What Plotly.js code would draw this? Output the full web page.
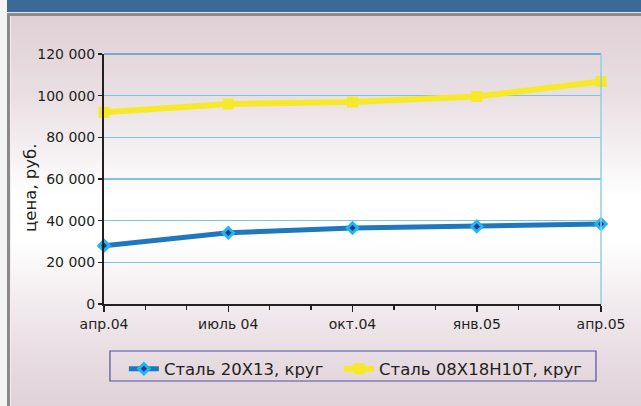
<!DOCTYPE html>
<html><head><meta charset="utf-8">
<script src="https://cdn.plot.ly/plotly-3.0.1.min.js"></script>
<style>
html,body{margin:0;padding:0;background:#f4f4f4;}
#wrap{position:relative;width:641px;height:406px;overflow:hidden;background:#f4f4f4;}
.abs{position:absolute;}
#band{left:7px;top:0;width:634px;height:12px;background:#3b6a99;}
#hl1{left:7px;top:12px;width:634px;height:1px;background:#e4e4e4;}
#hl2{left:7px;top:13px;width:634px;height:3px;background:#8a8a8a;}
#vl{left:7px;top:13px;width:3px;height:393px;background:#8a8a8a;}
#vl2{left:10px;top:16px;width:1px;height:390px;background:#f3eef0;}
#panel{left:11px;top:16px;width:630px;height:390px;
  background:linear-gradient(to bottom,#e0d0d6 0%,#e9dfe3 20%,#f6f2f4 36%,#ffffff 46%,#ffffff 58%,#f3edf0 72%,#e7dce1 88%,#e0d2d8 100%);}
#chart{left:0;top:0;width:641px;height:406px;}
</style></head>
<body>
<div id="wrap">
  <div id="band" class="abs"></div>
  <div id="hl1" class="abs"></div>
  <div id="hl2" class="abs"></div>
  <div id="vl" class="abs"></div>
  <div id="vl2" class="abs"></div>
  <div id="panel" class="abs"></div>
  <div id="chart" class="abs"></div>
</div>
<script>
const periods = ['апр.04', 'июль 04', 'окт.04', 'янв.05', 'апр.05'];
const steel20x13 = [28000, 34200, 36500, 37200, 38400];
const steel08x18 = [92000, 96000, 97000, 99600, 106800];
const seriesNames = ['Сталь 20Х13, круг', 'Сталь 08Х18Н10Т, круг'];
const yTitle = 'цена, руб.';

const xIdx = periods.map((_, i) => i);
const FONT = '"DejaVu Sans", "Liberation Sans", sans-serif';
const TXT = '#231f20';

const traces = [
  {
    x: xIdx, y: steel20x13, name: seriesNames[0], type: 'scatter', mode: 'lines+markers',
    line: {color: '#1f78bd', width: 5},
    marker: {symbol: 'diamond', size: 8, color: '#33368c', line: {color: '#1cb8f2', width: 3}},
    cliponaxis: false, legend: 'legend'
  },
  {
    x: xIdx, y: steel08x18, name: seriesNames[1], type: 'scatter', mode: 'lines+markers',
    line: {color: '#f7e92a', width: 6},
    marker: {symbol: 'square', size: 11, color: '#f7e92a'},
    cliponaxis: false, legend: 'legend2'
  }
];

const legendStyle = {
  orientation: 'h', xanchor: 'left', y: -0.19, yanchor: 'top',
  bgcolor: 'rgba(0,0,0,0)', borderwidth: 0,
  font: {family: FONT, size: 16.5, color: TXT}, itemwidth: 30
};

const layout = {
  width: 641, height: 406,
  margin: {l: 104, r: 40, t: 54, b: 102},
  paper_bgcolor: 'rgba(0,0,0,0)', plot_bgcolor: 'rgba(0,0,0,0)',
  separators: ', ',
  font: {family: FONT, color: TXT, size: 14},
  showlegend: true,
  xaxis: {
    range: [0, 4], tickmode: 'array', tickvals: xIdx, ticktext: periods,
    showgrid: false, zeroline: false, showline: true, linecolor: TXT, linewidth: 2,
    ticks: 'outside', ticklen: 6, tickwidth: 1.5, tickcolor: TXT,
    minor: {tickmode: 'linear', tick0: 0, dtick: 1/3, ticks: 'outside', ticklen: 4, tickwidth: 1.2, tickcolor: TXT, showgrid: false},
    tickfont: {family: FONT, size: 14, color: TXT}
  },
  xaxis2: {
    overlaying: 'x', matches: 'x', anchor: 'y', range: [0, 4], tickmode: 'array', tickvals: xIdx,
    showticklabels: false, showgrid: false, zeroline: false, showline: false,
    ticks: 'inside', ticklen: 5, tickwidth: 1.5, tickcolor: TXT
  },
  yaxis: {
    range: [0, 120000], dtick: 20000, tickformat: ',.0f',
    showgrid: true, gridcolor: '#7cc5df', gridwidth: 1.2,
    zeroline: false, showline: true, linecolor: TXT, linewidth: 2,
    ticks: 'outside', ticklen: 4, tickwidth: 1.2, tickcolor: TXT,
    tickfont: {family: FONT, size: 14, color: TXT}
  },
  annotations: [
    {text: yTitle, xref: 'paper', yref: 'paper', x: -0.148, y: 0.466, xanchor: 'center', yanchor: 'middle',
     textangle: -90, showarrow: false, font: {family: FONT, size: 16.5, color: TXT}}
  ],
  legend: Object.assign({x: 0.040}, legendStyle),
  legend2: Object.assign({x: 0.473}, legendStyle),
  shapes: [
    {type: 'line', xref: 'paper', yref: 'paper', x0: 0, x1: 1, y0: 1, y1: 1, line: {color: '#4f9fc0', width: 1.5}},
    {type: 'line', xref: 'paper', yref: 'paper', x0: 1, x1: 1, y0: 0, y1: 1, line: {color: '#8fd0e3', width: 1.5}},
    {type: 'rect', xref: 'paper', yref: 'paper', x0: 0.012, x1: 0.9899, y0: -0.188, y1: -0.308, line: {color: '#5050a8', width: 1.2}}
  ]
};

Plotly.newPlot('chart', traces, layout, {displayModeBar: false, staticPlot: true});
</script>
</body></html>
